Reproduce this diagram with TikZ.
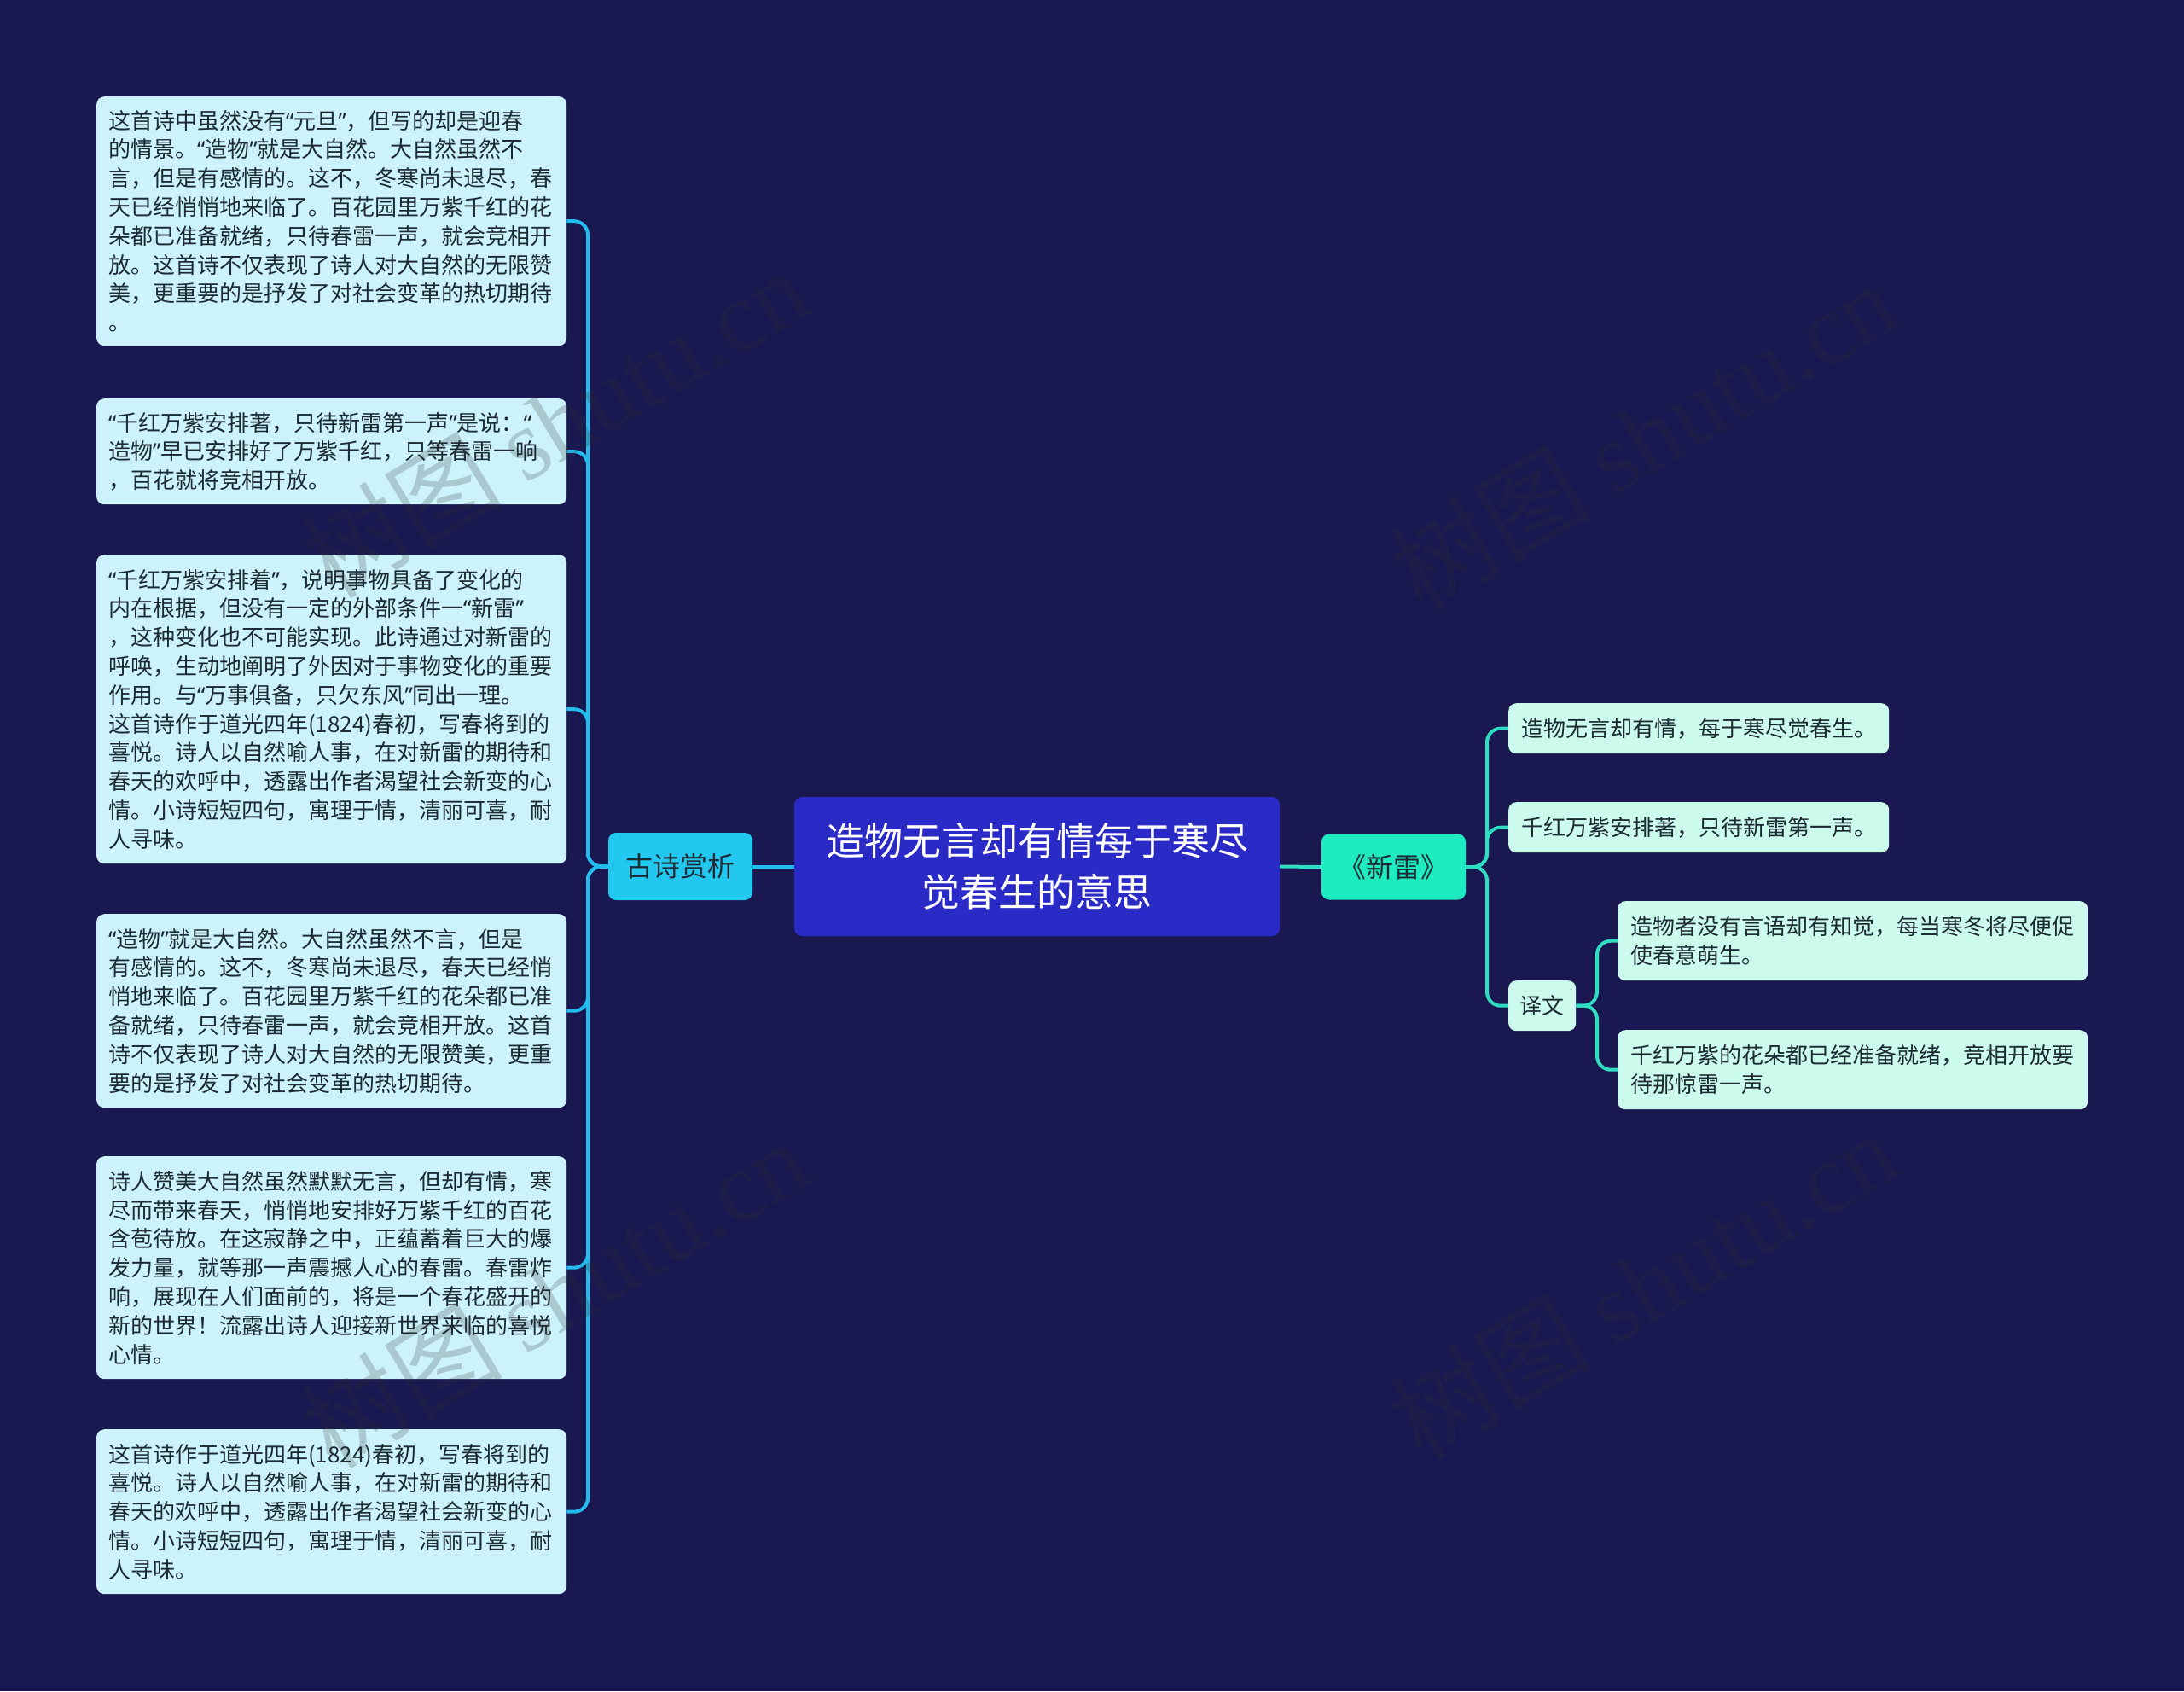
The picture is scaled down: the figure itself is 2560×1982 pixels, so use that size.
\documentclass[tikz,border=0pt]{standalone}
\usepackage{fontspec}
\setmainfont{Noto Sans CJK SC}
\newfontfamily\wmserif{Liberation Serif}
\newfontfamily\qfont{Noto Sans}
\newcommand\qL{{\qfont “}}
\newcommand\qR{{\qfont ”}}
\definecolor{bg}{HTML}{1A1850}
\definecolor{cfill}{HTML}{2A2AC6}
\definecolor{gfill}{HTML}{22C8F0}
\definecolor{xfill}{HTML}{1EEBC0}
\definecolor{lfill}{HTML}{CCF3FB}
\definecolor{rfill}{HTML}{CCFBEE}
\definecolor{lcol}{HTML}{22BDEE}
\definecolor{rcol}{HTML}{2EDDC2}
\definecolor{tdark}{HTML}{1C2A33}
\definecolor{wmcol}{HTML}{303036}
\begin{document}
\begin{tikzpicture}[x=1pt,y=-1pt,
  lbox/.style={fill=lfill, rounded corners=9pt, text width=523pt, inner xsep=14pt, inner ysep=0pt, align=left, anchor=north west, text=tdark, font=\fontsize{26}{33.8}\selectfont},
  rbox/.style={fill=rfill, rounded corners=9pt, inner xsep=14pt, inner ysep=0pt, anchor=north west, text=tdark, font=\fontsize{26}{34.5}\selectfont},
  lline/.style={draw=lcol, line width=4pt, rounded corners=16pt},
  rline/.style={draw=rcol, line width=4pt, rounded corners=16pt},
  wmark/.style={rotate=31, text=wmcol, text opacity=0.22, font=\fontsize{118}{118}\selectfont}
]
\fill[bg] (0,0) rectangle (2560,1982);
\useasboundingbox (0,0) rectangle (2560,1982);

% central
\node[fill=cfill, rounded corners=9pt, minimum width=569pt, minimum height=163pt, inner sep=0pt, text=white, align=center, font=\fontsize{45}{60}\selectfont] (root) at (1215.5,1015.5) {造物无言却有情每于寒尽\\觉春生的意思};

\node[fill=gfill, rounded corners=9pt, minimum width=169pt, minimum height=79pt, inner sep=0pt, text=tdark, font=\fontsize{32}{36}\selectfont] (gushi) at (797.5,1015.5) {古诗赏析};
\node[fill=xfill, rounded corners=9pt, minimum width=169pt, minimum height=77pt, inner sep=0pt, text=tdark, font=\fontsize{32}{36}\selectfont] (xinlei) at (1633.5,1016) {《新雷》};

% left boxes
\node[lbox, minimum height=292pt] (L1) at (113,113) {这首诗中虽然没有\qL 元旦\qR，但写的却是迎春\\的情景。\qL 造物\qR 就是大自然。大自然虽然不\\言，但是有感情的。这不，冬寒尚未退尽，春\\天已经悄悄地来临了。百花园里万紫千红的花\\朵都已准备就绪，只待春雷一声，就会竞相开\\放。这首诗不仅表现了诗人对大自然的无限赞\\美，更重要的是抒发了对社会变革的热切期待\\。};
\node[lbox, minimum height=124pt] (L2) at (113,467) {\qL 千红万紫安排著，只待新雷第一声\qR 是说：\qL\\造物\qR 早已安排好了万紫千红，只等春雷一响\\，百花就将竞相开放。};
\node[lbox, minimum height=362pt] (L3) at (113,650) {\qL 千红万紫安排着\qR，说明事物具备了变化的\\内在根据，但没有一定的外部条件一\qL 新雷\qR\\，这种变化也不可能实现。此诗通过对新雷的\\呼唤，生动地阐明了外因对于事物变化的重要\\作用。与\qL 万事俱备，只欠东风\qR 同出一理。\\这首诗作于道光四年(1824)春初，写春将到的\\喜悦。诗人以自然喻人事，在对新雷的期待和\\春天的欢呼中，透露出作者渴望社会新变的心\\情。小诗短短四句，寓理于情，清丽可喜，耐\\人寻味。};
\node[lbox, minimum height=227pt] (L4) at (113,1071) {\qL 造物\qR 就是大自然。大自然虽然不言，但是\\有感情的。这不，冬寒尚未退尽，春天已经悄\\悄地来临了。百花园里万紫千红的花朵都已准\\备就绪，只待春雷一声，就会竞相开放。这首\\诗不仅表现了诗人对大自然的无限赞美，更重\\要的是抒发了对社会变革的热切期待。};
\node[lbox, minimum height=261pt] (L5) at (113,1355) {诗人赞美大自然虽然默默无言，但却有情，寒\\尽而带来春天，悄悄地安排好万紫千红的百花\\含苞待放。在这寂静之中，正蕴蓄着巨大的爆\\发力量，就等那一声震撼人心的春雷。春雷炸\\响，展现在人们面前的，将是一个春花盛开的\\新的世界！流露出诗人迎接新世界来临的喜悦\\心情。};
\node[lbox, minimum height=193pt] (L6) at (113,1675) {这首诗作于道光四年(1824)春初，写春将到的\\喜悦。诗人以自然喻人事，在对新雷的期待和\\春天的欢呼中，透露出作者渴望社会新变的心\\情。小诗短短四句，寓理于情，清丽可喜，耐\\人寻味。};

% right boxes
\node[rbox, minimum width=446pt, minimum height=59pt] (c1) at (1768,824) {造物无言却有情，每于寒尽觉春生。};
\node[rbox, minimum width=446pt, minimum height=59pt] (c2) at (1768,940) {千红万紫安排著，只待新雷第一声。};
\node[rbox, minimum width=79pt, minimum height=59pt, inner xsep=0pt] (yw) at (1768,1149) {译文};
\node[rbox, text width=521pt, align=left, minimum height=93pt, inner xsep=15pt] (t1) at (1896,1056) {造物者没有言语却有知觉，每当寒冬将尽便促\\使春意萌生。};
\node[rbox, text width=521pt, align=left, minimum height=93pt, inner xsep=15pt] (t2) at (1896,1207) {千红万紫的花朵都已经准备就绪，竞相开放要\\待那惊雷一声。};

% connectors
\coordinate (lj) at (689,1015.5);
\coordinate (rj) at (1743,1016);
\coordinate (yj) at (1872,1178.5);
\draw[lline] (root.west) -- (gushi.east);
\foreach \n in {L1,L2,L3,L4,L5,L6} \draw[lline] (gushi.west) -- (lj) |- (\n.east);
\draw[rline] (root.east) -- (xinlei.west);
\foreach \n in {c1,c2,yw} \draw[rline] (xinlei.east) -- (rj) |- (\n.west);
\foreach \n in {t1,t2} \draw[rline] (yw.east) -- (yj) |- (\n.west);

% watermarks
\node[wmark] (w1) at (650,495) {树图 {\wmserif shutu.cn}};
\node[wmark] (w2) at (1926,510) {树图 {\wmserif shutu.cn}};
\node[wmark] (w3) at (650,1515) {树图 {\wmserif shutu.cn}};
\node[wmark] (w4) at (1926,1505) {树图 {\wmserif shutu.cn}};
\end{tikzpicture}
\end{document}
